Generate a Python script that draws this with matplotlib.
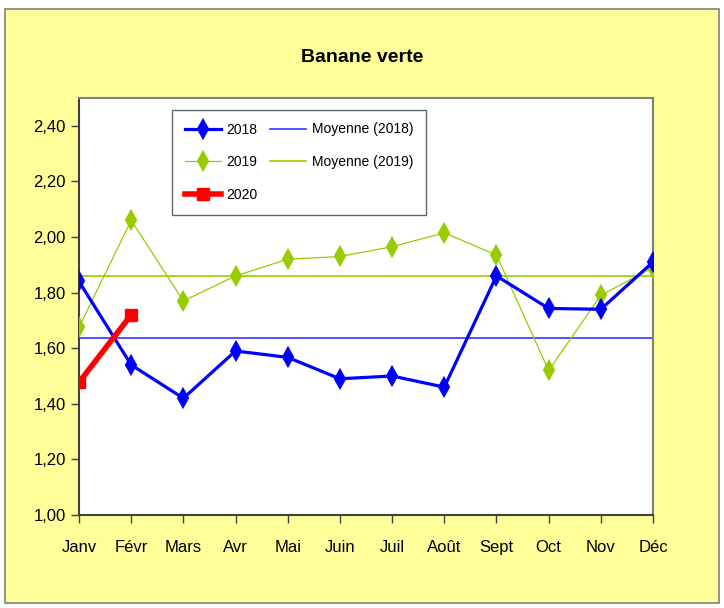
import numpy as np
import matplotlib.pyplot as plt
from matplotlib.patches import Rectangle

months = ['Janv', 'Févr', 'Mars', 'Avr', 'Mai', 'Juin', 'Juil', 'Août', 'Sept', 'Oct', 'Nov', 'Déc']
prix_2018 = [1.84, 1.54, 1.42, 1.59, 1.567, 1.49, 1.50, 1.46, 1.86, 1.743, 1.74, 1.91]
prix_2019 = [1.675, 2.06, 1.77, 1.86, 1.92, 1.93, 1.965, 2.015, 1.935, 1.52, 1.79, 1.89]
prix_2020 = [1.477, 1.72]
yticks = [1.00, 1.20, 1.40, 1.60, 1.80, 2.00, 2.20, 2.40]

plt.rcParams['font.family'] = ['Liberation Sans', 'DejaVu Sans']

fig = plt.figure(figsize=(7.24, 6.08), dpi=100)
fig.patch.set_facecolor('white')
fond = Rectangle((5 / 724, 1 - 603 / 608), 714 / 724, 594 / 608,
                 transform=fig.transFigure, facecolor='#FFFF99',
                 edgecolor='#808080', lw=1.2, zorder=-10)
fig.add_artist(fond)

ax = fig.add_axes([79 / 724, 1 - 515 / 608, 574 / 724, 417 / 608])
ax.set_zorder(1)
ax.set_facecolor('white')
x = np.arange(len(months))

moy_2018 = np.mean(prix_2018)
moy_2019 = np.mean(prix_2019)

l1, = ax.plot(x, prix_2018, color='#0000FF', lw=2.3, marker='d', ms=9, mew=1.5,
              label='2018', zorder=4)
l2, = ax.plot(x, prix_2019, color='#99CC00', lw=0.9, marker='d', ms=9, mew=1.5,
              label='2019', zorder=3)
l3, = ax.plot(x[:len(prix_2020)], prix_2020, color='#FF0000', lw=4, marker='s', ms=8,
              label='2020', zorder=5)
l4 = ax.axhline(moy_2018, color='#3333FF', lw=1.2, label='Moyenne (2018)', zorder=2)
l5 = ax.axhline(moy_2019, color='#99CC00', lw=1.2, label='Moyenne (2019)', zorder=2)

ax.set_xlim(0, 11)
ax.set_ylim(1.0, 2.5)
ax.set_xticks(x)
ax.set_xticklabels(months, fontsize=12)
ax.set_yticks(yticks)
ax.set_yticklabels([f'{v:.2f}'.replace('.', ',') for v in yticks], fontsize=12)
ax.tick_params(axis='both', direction='out', color='#404040', length=6, width=1)
ax.tick_params(axis='x', pad=12)
for sp in ax.spines.values():
    sp.set_color('#808080')
    sp.set_linewidth(1.5)
ax.spines['left'].set_color('#404040')
ax.spines['bottom'].set_color('#404040')

leg = ax.legend(handles=[l1, l2, l3, l4, l5], ncol=2, loc='upper left',
                bbox_to_anchor=(93 / 574, 1 - 12 / 417), fontsize=10,
                frameon=True, fancybox=False, edgecolor='#404040',
                handlelength=2.6, handletextpad=0.4, labelspacing=1.35,
                columnspacing=0.9, borderpad=0.9, borderaxespad=0)
leg.get_frame().set_linewidth(1)

fig.text(0.5, 1 - 58 / 608, 'Banane verte', ha='center', va='center',
         fontsize=14, fontweight='bold')

fig.savefig('out.png', dpi=100, facecolor=fig.get_facecolor())
